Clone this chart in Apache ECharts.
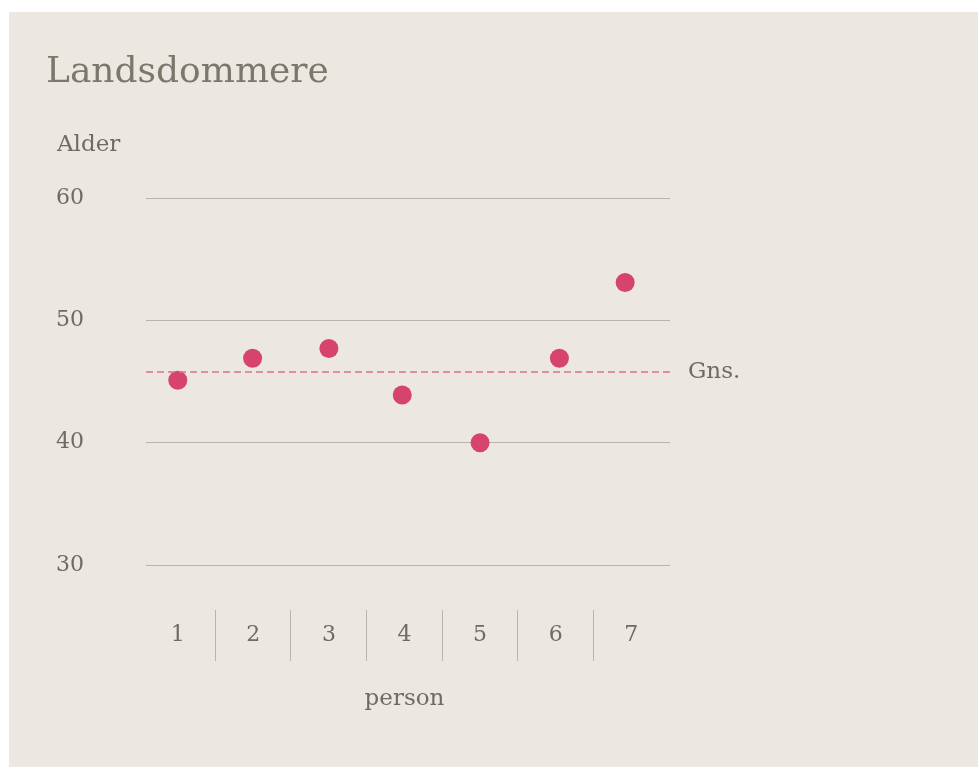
<!DOCTYPE html>
<html>
<head>
<meta charset="utf-8">
<script src="https://cdn.jsdelivr.net/npm/echarts@6/dist/echarts.min.js"></script>
<style>
  html, body { margin: 0; padding: 0; background: #ffffff; }
  #chart { position: absolute; left: 9px; top: 12px; width: 969px; height: 755px; }
</style>
</head>
<body>
<div id="chart"></div>
<script>
// persons on the x axis
const persons = ['1', '2', '3', '4', '5', '6', '7'];
// horizontal position of each dot (slight jitter around the person's slot)
const personX = [1.0, 1.99, 3.0, 3.97, 5.0, 6.05, 6.92];
// age of each judge
const ages = [45.1, 46.9, 47.7, 43.9, 40.0, 46.9, 53.1];
// average line
const average = 45.8;
const yTicks = [30, 40, 50, 60];

const textColor = '#6f6b63';
const gridColor = '#b9b4ac';
const dotColor = '#d6446d';
const font = 'DejaVu Serif';

const yMin = yTicks[0];
const yMax = yTicks[yTicks.length - 1];
const plotTop = 186, plotBottom = 202;

const chart = echarts.init(document.getElementById('chart'));

chart.setOption({
    backgroundColor: '#ece7e1',
    animation: false,
    title: [
        {
            text: 'Landsdommere',
            left: 32,
            top: 38,
            textStyle: { fontFamily: font, fontSize: 36, fontWeight: 'normal', color: '#7b776b' }
        },
        {
            text: 'Alder',
            left: 43,
            top: 117,
            textStyle: { fontFamily: font, fontSize: 23, fontWeight: 'normal', color: textColor }
        }
    ],
    grid: [
        // gridlines, y labels and the average line
        { left: 137, right: 308, top: plotTop, bottom: plotBottom },
        // person slots and dots
        { left: 131, right: 309, top: plotTop, bottom: plotBottom },
        // separators between persons
        { left: 206, right: 385, top: plotTop, bottom: plotBottom }
    ],
    xAxis: [
        { gridIndex: 0, type: 'value', min: 0, max: 1, show: false },
        {
            gridIndex: 1,
            type: 'category',
            data: persons,
            offset: 45,
            axisLine: { show: false },
            axisTick: { show: false },
            axisLabel: { margin: 14, fontFamily: font, fontSize: 22, color: textColor },
            splitLine: { show: false },
            name: 'person',
            nameLocation: 'middle',
            nameGap: 78,
            nameTextStyle: { fontFamily: font, fontSize: 23, color: textColor }
        },
        { gridIndex: 1, type: 'value', min: 0.5, max: 7.5, show: false },
        {
            gridIndex: 2,
            type: 'value',
            min: 1,
            max: persons.length - 1,
            interval: 1,
            offset: 45,
            axisLine: { show: false },
            axisTick: { show: true, length: 51, lineStyle: { color: gridColor, width: 1 } },
            axisLabel: { show: false },
            splitLine: { show: false }
        }
    ],
    yAxis: [
        {
            gridIndex: 0,
            type: 'value',
            min: yMin,
            max: yMax,
            interval: 10,
            axisLine: { show: false },
            axisTick: { show: false },
            axisLabel: { align: 'left', margin: 90, fontFamily: font, fontSize: 22, color: textColor },
            splitLine: { lineStyle: { color: gridColor, width: 1 } }
        },
        { gridIndex: 1, type: 'value', min: yMin, max: yMax, show: false },
        { gridIndex: 2, type: 'value', min: yMin, max: yMax, show: false }
    ],
    series: [
        {
            type: 'scatter',
            xAxisIndex: 2,
            yAxisIndex: 1,
            symbolSize: 19,
            itemStyle: { color: dotColor, opacity: 1 },
            data: ages.map((a, i) => [personX[i], a])
        },
        {
            type: 'scatter',
            xAxisIndex: 0,
            yAxisIndex: 0,
            data: [],
            markLine: {
                silent: true,
                symbol: 'none',
                lineStyle: { color: '#dd6f8f', width: 1.5, type: [7, 4] },
                label: {
                    position: 'end',
                    distance: 18,
                    formatter: 'Gns.',
                    fontFamily: font,
                    fontSize: 23,
                    color: textColor
                },
                data: [{ yAxis: average }]
            }
        }
    ]
});
</script>
</body>
</html>
